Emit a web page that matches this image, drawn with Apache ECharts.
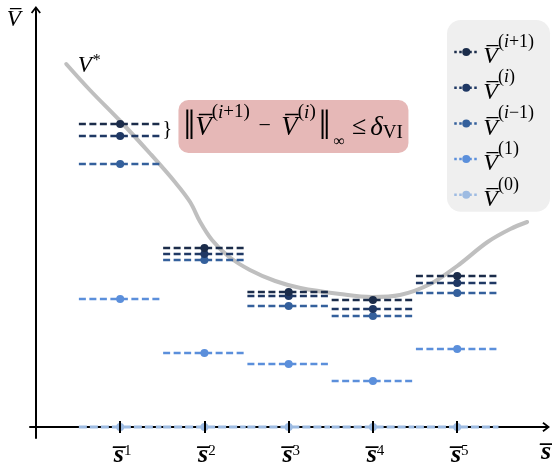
<!DOCTYPE html>
<html>
<head>
<meta charset="utf-8">
<script src="https://cdn.jsdelivr.net/npm/echarts@6/dist/echarts.min.js"></script>
<style>
html,body{margin:0;padding:0;background:#ffffff;}
#chart{width:552px;height:464px;}
</style>
</head>
<body>
<div id="chart"></div>
<script>
// ---------------- data ----------------
const states = ['1', '2', '3', '4', '5'];            // superscripts of the states s̄
const statePos = [1, 2, 3, 4, 5];                     // state positions on the x axis
const seriesNames = ['V(i+1)', 'V(i)', 'V(i-1)', 'V(1)', 'V(0)'];
const seriesSups  = ['(i+1)', '(i)', '(i−1)', '(1)', '(0)'];
const vIp1 = [30.3, 17.9, 13.5, 12.7, 15.1];
const vI   = [29.1, 17.3, 13.1, 11.8, 14.4];
const vIm1 = [26.3, 16.7, 12.1, 11.1, 13.4];
const v1   = [12.8, 7.4, 6.3, 4.6, 7.8];
const v0   = [0, 0, 0, 0, 0];
const vStarX = [0.36, 0.64, 1.00, 1.36, 1.65, 1.83, 1.95, 2.09, 2.28, 2.54, 2.84, 3.14, 3.61, 3.99, 4.32, 4.68, 5.00, 5.36, 5.63, 5.83];
const vStarY = [36.3, 33.7, 30.6, 27.3, 24.5, 22.5, 20.5, 18.7, 17.1, 15.7, 14.6, 13.9, 13.3, 13.0, 13.2, 14.3, 16.1, 18.5, 19.8, 20.5];

// ---------------- style ----------------
const FONT = 'Liberation Serif';
const OL = '\u0305';
const colors = ['#1b2c4a', '#1f3864', '#34609c', '#5b8fdb', '#9dbbe2'];
const HALF = 0.49;
const ARROW = 'path://M5,0 L10,6.5 L8.6,7.6 L5.9,4.1 L5.9,12 L4.1,12 L4.1,4.1 L1.4,7.6 L0,6.5 Z';
const X_MIN = -0.07, X_MAX = 6.03, Y_MIN = -1.1, Y_MAX = 41.5;

function segments(vals) {
  const out = [];
  vals.forEach((v, k) => {
    const x = statePos[k];
    out.push({ value: [x - HALF, v], symbol: 'none' });
    out.push({ value: [x, v] });
    out.push({ value: [x + HALF, v], symbol: 'none' });
    out.push('-');
  });
  return out;
}
function supTokens(str, up, it) {
  return str.split('').map(c => (c === 'i' ? '{' + it + '|i}' : '{' + up + '|' + c + '}')).join('');
}

const valuesList = [vIp1, vI, vIm1, v1, v0];
const lineSeries = [];
for (let s = valuesList.length - 1; s >= 0; s--) {
  lineSeries.push({
    name: seriesNames[s],
    type: 'line',
    data: segments(valuesList[s]),
    symbol: 'circle',
    symbolSize: 8,
    showAllSymbol: true,
    connectNulls: false,
    color: colors[s],
    lineStyle: { color: colors[s], width: s === 4 ? 3 : 2.5, type: s === 4 ? [8, 3] : [7, 3.5] },
    itemStyle: { color: colors[s] },
    z: 3,
    silent: true
  });
}

const vStarData = vStarX.map((x, i) => {
  if (i === 0) {
    return {
      value: [x, vStarY[i]],
      symbol: 'circle', symbolSize: 1,
      itemStyle: { color: 'rgba(0,0,0,0)' },
      label: {
        show: true, position: 'right', distance: 11,
        formatter: '{v|V}{s|*}',
        rich: {
          v: { fontFamily: FONT, fontStyle: 'italic', fontSize: 23, color: '#000', padding: [4, 0, 0, 0] },
          s: { fontFamily: FONT, fontSize: 16, color: '#000', padding: [0, 0, 6, 1] }
        }
      }
    };
  }
  return { value: [x, vStarY[i]], symbol: 'none' };
});

const mathRichLegend = {
  v:  { fontFamily: FONT, fontStyle: 'italic', fontSize: 24, color: '#000', padding: [12, 0, 2, 0] },
  p:  { fontFamily: FONT, fontSize: 18, color: '#000', padding: [0, 0, 20, 0] },
  pi: { fontFamily: FONT, fontStyle: 'italic', fontSize: 18, color: '#000', padding: [0, 0, 20, 0] }
};

const chart = echarts.init(document.getElementById('chart'), null, { renderer: 'canvas' });

const tickAxisBase = {
  type: 'value', min: X_MIN, max: X_MAX, position: 'bottom',
  axisLine: { show: true, onZero: true, onZeroAxisIndex: 0, lineStyle: { color: 'rgba(0,0,0,0)', width: 0 } },
  splitLine: { show: false },
  z: 6
};

chart.setOption({
  animation: false,
  backgroundColor: '#ffffff',
  grid: { left: 30, right: 8, top: 12, bottom: 26, containLabel: false, outerBoundsMode: 'none' },
  xAxis: [
    {
      type: 'value', min: X_MIN, max: X_MAX, position: 'bottom',
      axisLine: {
        show: true, onZero: true, onZeroAxisIndex: 0,
        lineStyle: { color: '#000', width: 2 },
        symbol: ['none', ARROW], symbolSize: [11, 12]
      },
      axisTick: { show: false }, axisLabel: { show: false }, splitLine: { show: false },
      name: 's' + OL, nameLocation: 'end', nameGap: 7,
      nameTextStyle: { fontFamily: FONT, fontWeight: 'bold', fontStyle: 'italic', fontSize: 26, color: '#000', align: 'right', verticalAlign: 'top', lineHeight: 26, padding: [12, 0, 0, 0] }
    },
    Object.assign({}, tickAxisBase, {
      axisTick: { show: true, inside: true, length: 6, customValues: statePos, lineStyle: { color: '#000', width: 2 } },
      axisLabel: {
        show: true, customValues: statePos, margin: 4,
        formatter: (val) => '{s|s' + OL + '}{k|' + states[statePos.indexOf(val)] + '}',
        rich: {
          s: { fontFamily: FONT, fontWeight: 'bold', fontStyle: 'italic', fontSize: 26, color: '#000', padding: [0, 0, 10, 5] },
          k: { fontFamily: FONT, fontSize: 15, color: '#000', padding: [0, 0, 18, 0] }
        }
      }
    }),
    Object.assign({}, tickAxisBase, {
      axisTick: { show: true, inside: false, length: 6, customValues: statePos, lineStyle: { color: '#000', width: 2 } },
      axisLabel: { show: false }
    })
  ],
  yAxis: {
    type: 'value', min: Y_MIN, max: Y_MAX,
    axisLine: {
      show: true, onZero: true, onZeroAxisIndex: 0,
      lineStyle: { color: '#000', width: 2 },
      symbol: ['none', ARROW], symbolSize: [11, 12]
    },
    axisTick: { show: false }, axisLabel: { show: false }, splitLine: { show: false },
    name: 'V' + OL, nameLocation: 'end', nameGap: -8,
    nameTextStyle: { fontFamily: FONT, fontStyle: 'italic', fontSize: 23, color: '#000', align: 'right', verticalAlign: 'middle', padding: [0, 15, 0, 0] }
  },
  legend: {
    data: seriesNames,
    orient: 'vertical',
    left: 447, top: 20,
    padding: [13, 16, 0, 6],
    itemGap: -0.3,
    itemWidth: 24, itemHeight: 10,
    backgroundColor: '#efefef',
    borderRadius: 14,
    lineStyle: { type: [2.5, 2.5], width: 2.5 },
    selectedMode: false,
    formatter: (name) => '{v|V' + OL + '}' + supTokens(seriesSups[seriesNames.indexOf(name)], 'p', 'pi'),
    textStyle: { rich: mathRichLegend }
  },
  series: [
    {
      name: 'V*', type: 'line', data: vStarData, smooth: 0.35, symbol: 'circle', showSymbol: true, showAllSymbol: true,
      lineStyle: { color: '#bfbfbf', width: 4, cap: 'round' }, z: 1, silent: true
    }
  ].concat(lineSeries)
});

// annotation anchored to the s̄¹ segments of V(i+1) and V(i)
const pA = chart.convertToPixel({ xAxisIndex: 0, yAxisIndex: 0 }, [statePos[0] + HALF, vIp1[0]]);
const pB = chart.convertToPixel({ xAxisIndex: 0, yAxisIndex: 0 }, [statePos[0] + HALF, vI[0]]);
const braceX = pA[0] + 1;
const braceY = (pA[1] + pB[1]) / 2;
const boxL = pA[0] + 17, boxT = braceY - 30;
const fr = {
  bar:  { fontFamily: FONT, fontSize: 42, color: '#000', padding: [9, 0, 0, 0] },
  bar2: { fontFamily: FONT, fontSize: 42, color: '#000', padding: [9, 0, 0, 3] },
  v:    { fontFamily: FONT, fontStyle: 'italic', fontSize: 27, color: '#000', padding: [10, 0, 0, 0] },
  p:    { fontFamily: FONT, fontSize: 19, color: '#000', padding: [0, 0, 21, 0] },
  pi:   { fontFamily: FONT, fontStyle: 'italic', fontSize: 19, color: '#000', padding: [0, 0, 21, 0] },
  op:   { fontFamily: FONT, fontSize: 22, color: '#000', padding: [6, 5, 0, 3] },
  inf:  { fontFamily: FONT, fontSize: 16, color: '#000', padding: [37, 0, 0, 3] },
  le:   { fontFamily: FONT, fontSize: 26, color: '#000', padding: [9, 4, 0, 7] },
  d:    { fontFamily: FONT, fontStyle: 'italic', fontSize: 27, color: '#000', padding: [10, 0, 0, 0] },
  vi:   { fontFamily: FONT, fontSize: 19, color: '#000', padding: [21, 0, 0, 0] }
};
const formula = '{bar|‖}{v|V' + OL + '}' + supTokens('(i+1)', 'p', 'pi') + '{op| − }{v|V' + OL + '}' + supTokens('(i)', 'p', 'pi') +
  '{bar2|‖}{inf|∞}{le|≤}{d|δ}{vi|VI}';

chart.setOption({
  graphic: [
    {
      type: 'text', silent: true, z: 10,
      style: { x: braceX, y: braceY, text: '}', font: '20px "' + FONT + '"', fill: '#000', verticalAlign: 'middle', align: 'left' }
    },
    {
      type: 'rect', silent: true, z: 10,
      shape: { x: boxL, y: boxT, width: 230, height: 53, r: 10 },
      style: { fill: '#e6b8b7' }
    },
    {
      type: 'text', silent: true, z: 11,
      style: { x: boxL + 5, y: boxT + 23, text: formula, rich: fr, verticalAlign: 'middle', align: 'left' }
    }
  ]
});
</script>
</body>
</html>
